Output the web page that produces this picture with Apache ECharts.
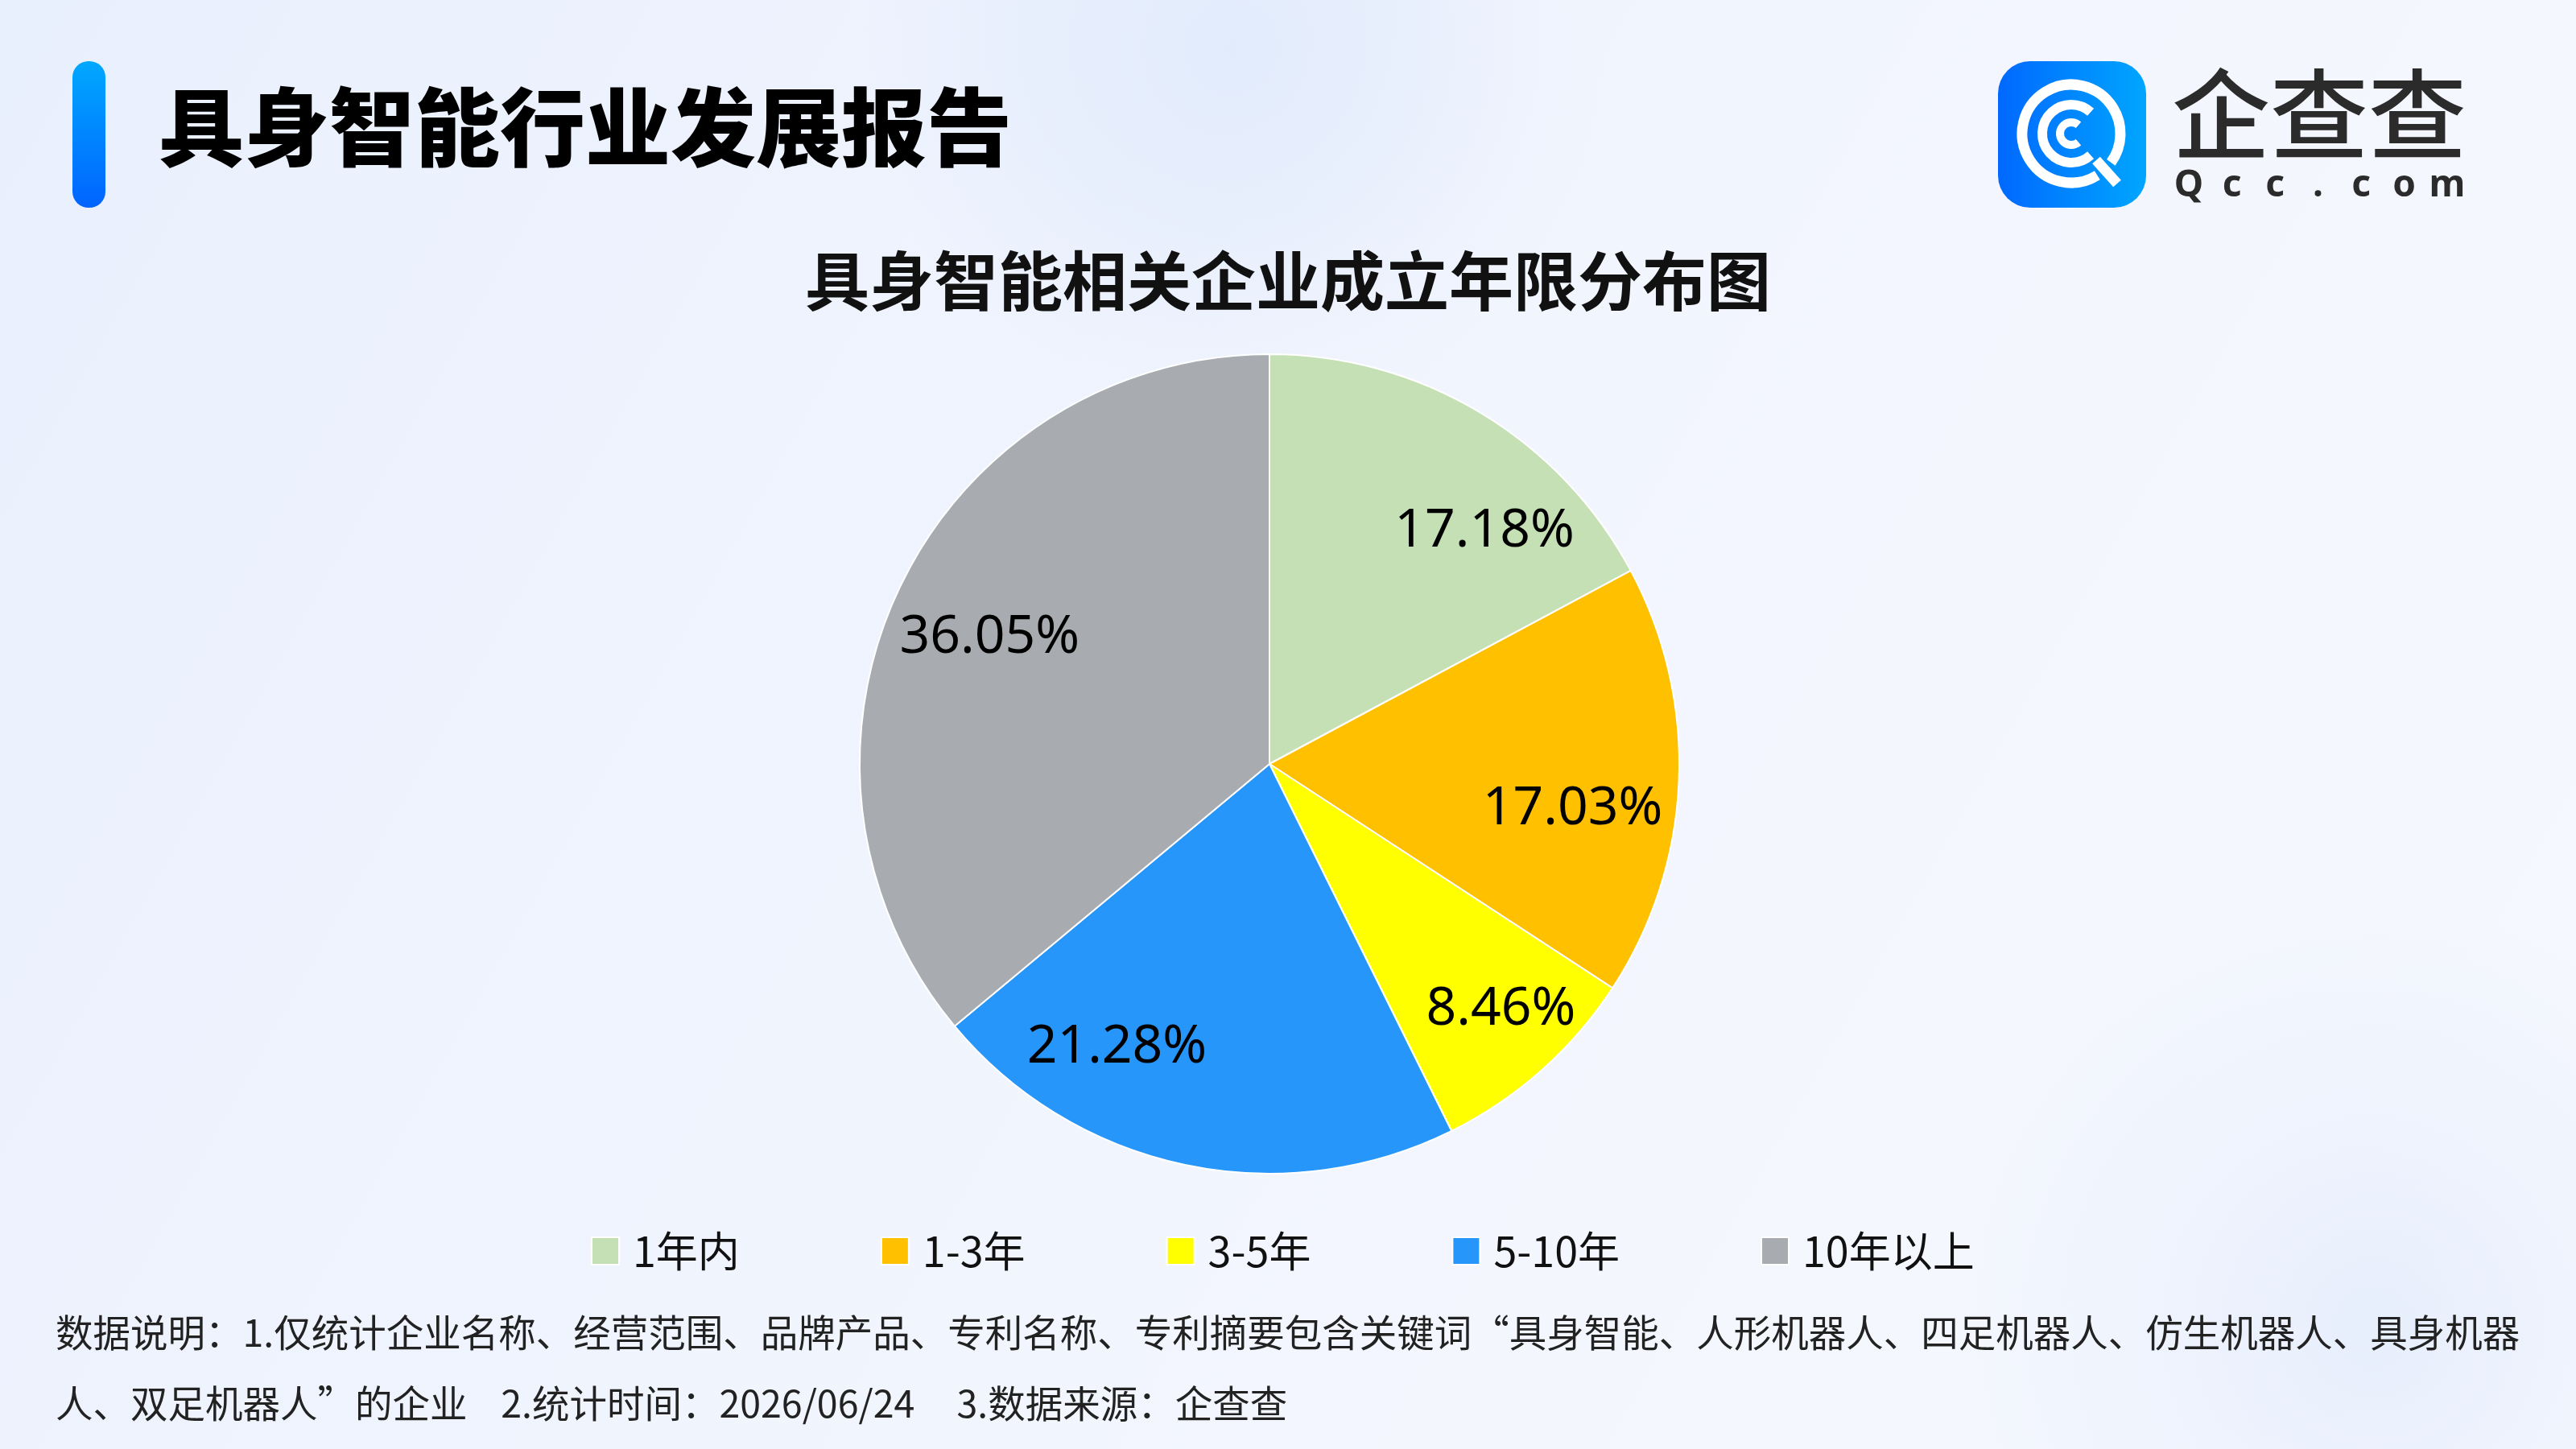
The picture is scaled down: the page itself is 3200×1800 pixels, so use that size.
<!DOCTYPE html>
<html style="height: 100%">
<head>
    <meta charset="utf-8">
    <style type="text/css">
        body { margin: 0; }
        #container { width: 3200px; height: 1800px; }
    </style>
</head>
<body>
<div id="container"></div>
<script src="https://cdn.jsdelivr.net/npm/echarts@6/dist/echarts.min.js"></script>
<script type="text/javascript">
    // 数据
    var categories = ['1年内', '1-3年', '3-5年', '5-10年', '10年以上'];
    var shares = [17.18, 17.03, 8.46, 21.28, 36.05];
    var sliceColors = ['#c5e0b4', '#ffc000', '#ffff00', '#2796fa', '#a8acb0'];

    var headerText = '具身智能行业发展报告';
    var chartTitle = '具身智能相关企业成立年限分布图';
    var noteLine1 = '数据说明：1.仅统计企业名称、经营范围、品牌产品、专利名称、专利摘要包含关键词“具身智能、人形机器人、四足机器人、仿生机器人、具身机器';
    var noteLine2 = '人、双足机器人”的企业    2.统计时间：2026/06/24     3.数据来源：企查查';

    var cjk = '"Noto Sans CJK SC", "Noto Sans", sans-serif';

    // 标签相对扇区中点的微调（像素）
    var labelNudge = [[64, 50], [-18, 39], [25, 10], [-108, -34], [10, 11]];

    var pieData = [];
    for (var i = 0; i < categories.length; i++) {
        pieData.push({ name: categories[i], value: shares[i] });
    }

    var dom = document.getElementById('container');
    var myChart = echarts.init(dom);

    // 徽标 Qcc.com 字母
    var qccLetters = 'Qcc.com'.split('');
    var qccGraphics = [];
    for (var k = 0; k < qccLetters.length; k++) {
        qccGraphics.push({
            type: 'text',
            x: 2719 + k * 53.5,
            y: 231,
            style: {
                text: qccLetters[k],
                fill: '#2b2b2b',
                font: 'bold 46px "Noto Sans", sans-serif',
                textAlign: 'center',
                textVerticalAlign: 'middle'
            }
        });
    }

    var option = {
        backgroundColor: new echarts.graphic.LinearGradient(0, 0, 1, 1, [
            { offset: 0, color: '#e9f0fd' },
            { offset: 0.6, color: '#f3f6fe' },
            { offset: 1, color: '#f6f8fe' }
        ]),
        color: sliceColors,
        title: {
            text: chartTitle,
            left: 'center',
            top: 304,
            textStyle: {
                fontFamily: cjk,
                fontSize: 80,
                fontWeight: 'bold',
                color: '#111'
            }
        },
        legend: {
            data: categories,
            left: 729,
            top: 1523,
            icon: 'rect',
            itemWidth: 34,
            itemHeight: 34,
            itemGap: 175,
            textStyle: {
                fontFamily: cjk,
                fontSize: 52,
                lineHeight: 52,
                color: '#111',
                padding: [0, 0, 0, 12]
            }
        },
        graphic: [
            {
                type: 'circle',
                z: -10,
                shape: { cx: 1530, cy: 60, r: 460 },
                style: {
                    fill: new echarts.graphic.RadialGradient(0.5, 0.5, 0.5, [
                        { offset: 0, color: 'rgba(214,228,250,0.55)' },
                        { offset: 1, color: 'rgba(214,228,250,0)' }
                    ])
                }
            },
            {
                type: 'circle',
                z: -10,
                shape: { cx: 2950, cy: 1650, r: 520 },
                style: {
                    fill: new echarts.graphic.RadialGradient(0.5, 0.5, 0.5, [
                        { offset: 0, color: 'rgba(222,233,251,0.6)' },
                        { offset: 1, color: 'rgba(222,233,251,0)' }
                    ])
                }
            },
            // 左侧竖条
            {
                type: 'rect',
                shape: { x: 90, y: 76, width: 41, height: 182, r: 20 },
                style: {
                    fill: new echarts.graphic.LinearGradient(0, 0, 0, 1, [
                        { offset: 0, color: '#00a8ff' },
                        { offset: 1, color: '#0064ff' }
                    ])
                }
            },
            {
                type: 'text',
                x: 197,
                y: 158,
                style: {
                    text: headerText,
                    fill: '#000',
                    font: '900 106px ' + cjk,
                    textVerticalAlign: 'middle'
                }
            },
            // 企查查 logo
            {
                type: 'rect',
                shape: { x: 2482, y: 76, width: 184, height: 182, r: 40 },
                style: {
                    fill: new echarts.graphic.LinearGradient(0, 0, 1, 0, [
                        { offset: 0, color: '#0068ff' },
                        { offset: 1, color: '#00a6ff' }
                    ])
                }
            },
            {
                type: 'arc',
                shape: { cx: 2573, cy: 166, r: 61, startAngle: 58 * Math.PI / 180, endAngle: (360 + 36) * Math.PI / 180, clockwise: true },
                style: { stroke: '#fff', lineWidth: 13, fill: null }
            },
            {
                type: 'line',
                shape: { x1: 2604, y1: 199, x2: 2630, y2: 228 },
                style: { stroke: '#fff', lineWidth: 13 }
            },
            {
                type: 'arc',
                shape: { cx: 2573, cy: 166, r: 36, startAngle: 48 * Math.PI / 180, endAngle: 312 * Math.PI / 180, clockwise: true },
                style: { stroke: '#fff', lineWidth: 12, fill: null }
            },
            {
                type: 'arc',
                shape: { cx: 2573, cy: 166, r: 14, startAngle: 50 * Math.PI / 180, endAngle: 310 * Math.PI / 180, clockwise: true },
                style: { stroke: '#fff', lineWidth: 10, fill: null }
            },
            {
                type: 'text',
                x: 2881,
                y: 142,
                style: {
                    text: '企查查',
                    fill: '#2b2b2b',
                    font: '500 122px ' + cjk,
                    textAlign: 'center',
                    textVerticalAlign: 'middle'
                }
            }
        ].concat(qccGraphics).concat([
            {
                type: 'text',
                x: 69,
                y: 1655,
                style: {
                    text: noteLine1,
                    fill: '#222',
                    font: '46.5px ' + cjk,
                    textVerticalAlign: 'middle'
                }
            },
            {
                type: 'text',
                x: 69,
                y: 1743,
                style: {
                    text: noteLine2,
                    fill: '#222',
                    font: '46.5px ' + cjk,
                    textVerticalAlign: 'middle'
                }
            }
        ]),
        series: [
            {
                name: '成立年限',
                type: 'pie',
                center: [1577, 949],
                radius: [0, 509],
                startAngle: 90,
                clockwise: true,
                avoidLabelOverlap: false,
                silent: true,
                label: { show: false },
                labelLine: { show: false },
                itemStyle: { borderColor: '#fff', borderWidth: 2 },
                data: pieData
            },
            {
                name: '标签',
                type: 'pie',
                center: [1577, 949],
                radius: [275, 509],
                startAngle: 90,
                clockwise: true,
                silent: true,
                legendHoverLink: false,
                avoidLabelOverlap: false,
                itemStyle: { color: 'rgba(0,0,0,0)', borderWidth: 0 },
                label: {
                    show: true,
                    position: 'inside',
                    color: '#000',
                    fontFamily: '"Noto Sans", sans-serif',
                    fontSize: 66,
                    formatter: function (p) { return p.value.toFixed(2) + '%'; }
                },
                labelLayout: function (p) {
                    var n = labelNudge[p.dataIndex];
                    return { dx: n[0], dy: n[1] };
                },
                labelLine: { show: false },
                data: pieData
            }
        ]
    };

    myChart.setOption(option);
</script>
</body>
</html>
